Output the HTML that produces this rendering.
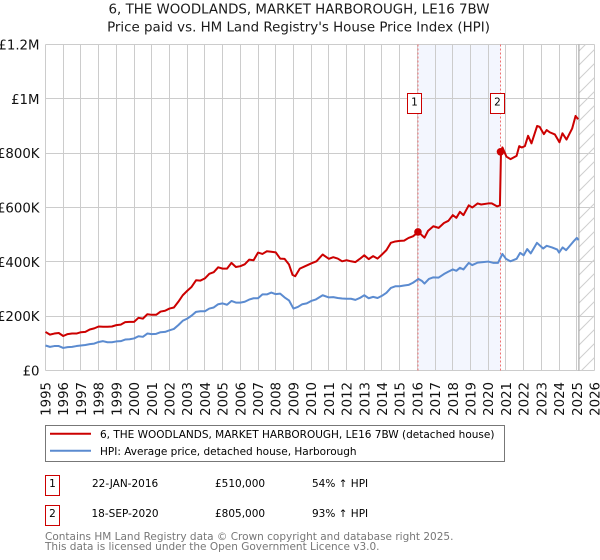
<!DOCTYPE html>
<html>
<head>
<meta charset="utf-8">
<style>
html,body{margin:0;padding:0;background:#fff;width:600px;height:560px;overflow:hidden}
svg{display:block;font-family:"DejaVu Sans","Liberation Sans",sans-serif}
</style>
</head>
<body>
<svg id="chart" width="600" height="560" viewBox="0 0 600 560" xmlns="http://www.w3.org/2000/svg">
  <defs>
    <pattern id="hatch" patternUnits="userSpaceOnUse" width="14" height="14">
      <path d="M-2 16 L16 -2 M-2 2 L2 -2 M12 16 L16 12" stroke="#cfcfcf" stroke-width="1" fill="none"/>
    </pattern>
  </defs>
  <rect width="600" height="560" fill="#fff"/>
  <text x="299" y="13.5" text-anchor="middle" font-size="13.4" fill="#1a1a1a">6, THE WOODLANDS, MARKET HARBOROUGH, LE16 7BW</text>
  <text x="298.5" y="31.5" text-anchor="middle" font-size="13.4" fill="#1a1a1a">Price paid vs. HM Land Registry's House Price Index (HPI)</text>
  <g id="bands"></g>
  <g id="grid"></g>
  <g id="overlays"></g>
  <g id="series"></g>
  <g id="labels"></g>

  <g>
    <rect x="407.5" y="93.5" width="14" height="20" fill="#fff" stroke="#c00" stroke-width="1"/>
    <text x="414.5" y="105.5" text-anchor="middle" font-size="10.5" fill="#000">1</text>
  </g>
  <g>
    <rect x="490.5" y="93.5" width="14" height="20" fill="#fff" stroke="#c00" stroke-width="1"/>
    <text x="497.5" y="105.5" text-anchor="middle" font-size="10.5" fill="#000">2</text>
  </g>

  <g>
    <rect x="45.5" y="425.5" width="459" height="36" fill="#fff" stroke="#777" stroke-width="1"/>
    <line x1="50" x2="91" y1="433.8" y2="433.8" stroke="#cc0000" stroke-width="2"/>
    <text x="100" y="438" font-size="10.5" fill="#000">6, THE WOODLANDS, MARKET HARBOROUGH, LE16 7BW (detached house)</text>
    <line x1="50" x2="91" y1="450.8" y2="450.8" stroke="#5b8bd0" stroke-width="2"/>
    <text x="100" y="455" font-size="10.5" fill="#000">HPI: Average price, detached house, Harborough</text>
  </g>

  <g font-size="10.5" fill="#000">
    <rect x="45.5" y="475.5" width="14" height="20" fill="#fff" stroke="#c00" stroke-width="1"/>
    <text x="52.5" y="487" text-anchor="middle">1</text>
    <text x="92" y="487">22-JAN-2016</text>
    <text x="215" y="487">£510,000</text>
    <text x="312" y="487">54% ↑ HPI</text>
  </g>
  <g font-size="10.5" fill="#000">
    <rect x="45.5" y="505.5" width="14" height="20" fill="#fff" stroke="#c00" stroke-width="1"/>
    <text x="52.5" y="517" text-anchor="middle">2</text>
    <text x="91.5" y="517">18-SEP-2020</text>
    <text x="215" y="517">£805,000</text>
    <text x="312" y="517">93% ↑ HPI</text>
  </g>

  <text x="45" y="540" font-size="10.5" fill="#777">Contains HM Land Registry data © Crown copyright and database right 2025.</text>
  <text x="45" y="550" font-size="10.5" fill="#777">This data is licensed under the Open Government Licence v3.0.</text>
</svg>
<script>
var yearTicks = [1995,1996,1997,1998,1999,2000,2001,2002,2003,2004,2005,2006,2007,2008,2009,2010,2011,2012,2013,2014,2015,2016,2017,2018,2019,2020,2021,2022,2023,2024,2025,2026];
var valueTicks = [0,200,400,600,800,1000,1200];
var valueTickLabels = ["£0","£200K","£400K","£600K","£800K","£1M","£1.2M"];

var priceDates = [1995,1995.25,1995.5,1995.75,1996,1996.25,1996.5,1996.75,1997,1997.25,1997.5,1997.75,1998,1998.25,1998.5,1998.75,1999,1999.25,1999.5,1999.75,2000,2000.25,2000.5,2000.75,2001,2001.25,2001.5,2001.75,2002,2002.25,2002.5,2002.75,2003,2003.25,2003.5,2003.75,2004,2004.25,2004.5,2004.75,2005,2005.25,2005.5,2005.75,2006,2006.25,2006.5,2006.75,2007,2007.25,2007.5,2007.75,2008,2008.25,2008.5,2008.75,2008.95,2009.1,2009.36,2009.6,2010,2010.3,2010.65,2011,2011.25,2011.5,2011.75,2012,2012.25,2012.5,2012.75,2013,2013.25,2013.5,2013.75,2014,2014.25,2014.5,2014.75,2015,2015.25,2015.5,2015.75,2016.06,2016.25,2016.4,2016.6,2016.9,2017.2,2017.5,2017.75,2018,2018.2,2018.4,2018.6,2018.9,2019.1,2019.4,2019.6,2020,2020.2,2020.5,2020.66,2020.72,2020.8,2021.03,2021.26,2021.6,2021.75,2021.9,2022.07,2022.25,2022.44,2022.76,2022.9,2023.14,2023.3,2023.47,2023.76,2024.02,2024.19,2024.42,2024.74,2024.93,2025.08];
var priceValues = [142,132,136,138,127,134,136,136,141,142,151,155,162,161,161,162,167,169,178,179,179,194,191,207,205,205,217,220,228,232,253,277,293,308,332,331,339,356,362,380,375,375,396,381,384,391,408,406,434,429,439,437,435,412,411,390,352,347,375,382,394,402,427,411,417,412,402,406,402,399,411,424,410,421,412,427,443,470,475,477,478,488,494,510,498,489,514,531,525,543,551,572,562,584,572,608,600,615,611,615,615,604,608,805,821,787,778,790,826,821,826,864,836,900,897,870,885,877,869,840,873,850,891,937,925];

var hpiDates = [1995,1995.25,1995.5,1995.75,1996,1996.25,1996.5,1996.75,1997,1997.25,1997.5,1997.75,1998,1998.25,1998.5,1998.75,1999,1999.25,1999.5,1999.75,2000,2000.25,2000.5,2000.75,2001,2001.25,2001.5,2001.75,2002,2002.25,2002.5,2002.75,2003,2003.25,2003.5,2003.75,2004,2004.25,2004.5,2004.75,2005,2005.25,2005.5,2005.75,2006,2006.25,2006.5,2006.75,2007,2007.25,2007.5,2007.75,2008,2008.25,2008.5,2008.75,2009,2009.25,2009.5,2009.75,2010,2010.25,2010.65,2011,2011.25,2011.5,2011.75,2012,2012.25,2012.5,2012.75,2013,2013.25,2013.5,2013.75,2014,2014.25,2014.5,2014.75,2015,2015.25,2015.5,2015.75,2016.06,2016.25,2016.4,2016.65,2016.9,2017.2,2017.5,2017.75,2018,2018.2,2018.4,2018.6,2018.9,2019.1,2019.4,2019.7,2020,2020.3,2020.55,2020.8,2021,2021.25,2021.6,2021.8,2022,2022.2,2022.4,2022.75,2023.1,2023.3,2023.6,2023.9,2024,2024.2,2024.4,2024.8,2025,2025.1];
var hpiValues = [92,87,90,90,83,86,87,90,92,94,97,99,105,108,104,104,107,108,114,115,118,126,124,136,134,135,141,142,148,153,167,183,191,202,216,218,218,228,232,244,247,242,256,250,250,253,261,266,266,280,280,287,281,283,269,258,228,234,244,247,256,261,277,269,270,267,265,264,264,260,267,277,266,271,267,275,286,304,310,310,313,315,323,337,330,320,337,343,342,355,364,372,367,378,372,396,388,397,399,401,396,396,429,411,402,411,433,424,447,431,470,449,459,453,445,434,453,443,474,488,480];

var saleDates = [2016.06,2020.72];
var saleValues = [510,805];
var dataEnd = [2025.12];

var NS = 'http://www.w3.org/2000/svg';
var plotLeft = 45.5, plotRight = 594.5, plotTop = 44.5, plotBottom = 370.5;
function xScale(year){ return plotLeft + (year - 1995) * (plotRight - plotLeft) / 31; }
function yScale(value){ return plotBottom - value * (plotBottom - plotTop) / 1200; }
function make(tag, parentId){
  var el = document.createElementNS(NS, tag);
  document.getElementById(parentId).appendChild(el);
  return el;
}
function linePoints(xs, ys){
  var out = [];
  for (var i = 0; i < xs.length; i++) out.push(xScale(xs[i]).toFixed(2) + ',' + yScale(ys[i]).toFixed(2));
  return out.join(' ');
}

var band = make('rect', 'bands');


band.setAttribute('x', xScale(saleDates[0]) - 1);
band.setAttribute('y', plotTop);
band.setAttribute('width', xScale(saleDates[1]) - xScale(saleDates[0]) + 0.5);
band.setAttribute('height', plotBottom - plotTop);
band.setAttribute('fill', '#f3f6fe');

valueTicks.forEach(function(v, i){
  var g = make('line', 'grid');
  
  
  g.setAttribute('x1', plotLeft);
  g.setAttribute('x2', plotRight);
  g.setAttribute('y1', Math.round(yScale(v) - 0.5) + 0.5);
  g.setAttribute('y2', Math.round(yScale(v) - 0.5) + 0.5);
  g.setAttribute('stroke', '#cccccc');
  var t = make('text', 'labels');
  
  
  t.setAttribute('x', 39.5);
  t.setAttribute('y', yScale(v) + 5);
  t.setAttribute('text-anchor', 'end');
  t.setAttribute('font-size', '13.3');
  t.setAttribute('fill', '#111');
  t.textContent = valueTickLabels[i];
});

yearTicks.forEach(function(y){
  var g = make('line', 'grid');
  
  
  var px = Math.round(xScale(y) - 0.5) + 0.5;
  g.setAttribute('x1', px);
  g.setAttribute('x2', px);
  g.setAttribute('y1', plotTop);
  g.setAttribute('y2', plotBottom);
  g.setAttribute('stroke', '#cccccc');
  var t = make('text', 'labels');
  
  
  t.setAttribute('text-anchor', 'end');
  t.setAttribute('font-size', '13.3');
  t.setAttribute('fill', '#111');
  t.setAttribute('transform', 'translate(' + (xScale(y) + 5) + ',382) rotate(-90)');
  t.textContent = y;
});

var hatch = make('rect', 'overlays');


hatch.setAttribute('x', xScale(dataEnd[0]));
hatch.setAttribute('y', plotTop);
hatch.setAttribute('width', plotRight - xScale(dataEnd[0]));
hatch.setAttribute('height', plotBottom - plotTop);
hatch.setAttribute('fill', 'url(#hatch)');

var endLine = make('line', 'overlays');


endLine.setAttribute('x1', xScale(dataEnd[0]));
endLine.setAttribute('x2', xScale(dataEnd[0]));
endLine.setAttribute('y1', plotTop);
endLine.setAttribute('y2', plotBottom);
endLine.setAttribute('stroke', '#999');

saleDates.forEach(function(d){
  var v = make('line', 'overlays');
  
  
  var px = xScale(d) - 0.5;
  v.setAttribute('x1', px);
  v.setAttribute('x2', px);
  v.setAttribute('y1', plotTop);
  v.setAttribute('y2', plotBottom);
  v.setAttribute('stroke', '#f07070');
  v.setAttribute('stroke-dasharray', '2 2');
});

var hpiLine = make('polyline', 'series');


hpiLine.setAttribute('points', linePoints(hpiDates, hpiValues));
hpiLine.setAttribute('fill', 'none');
hpiLine.setAttribute('stroke', '#5b8bd0');
hpiLine.setAttribute('stroke-width', '2');
hpiLine.setAttribute('stroke-linejoin', 'round');

var priceLine = make('polyline', 'series');


priceLine.setAttribute('points', linePoints(priceDates, priceValues));
priceLine.setAttribute('fill', 'none');
priceLine.setAttribute('stroke', '#cc0000');
priceLine.setAttribute('stroke-width', '2');
priceLine.setAttribute('stroke-linejoin', 'round');

saleDates.forEach(function(d, i){
  var c = make('circle', 'series');
  
  
  c.setAttribute('cx', xScale(d) - 0.5);
  c.setAttribute('cy', yScale(saleValues[i]));
  c.setAttribute('r', 3.8);
  c.setAttribute('fill', '#cc0000');
});
</script>
</body>
</html>
